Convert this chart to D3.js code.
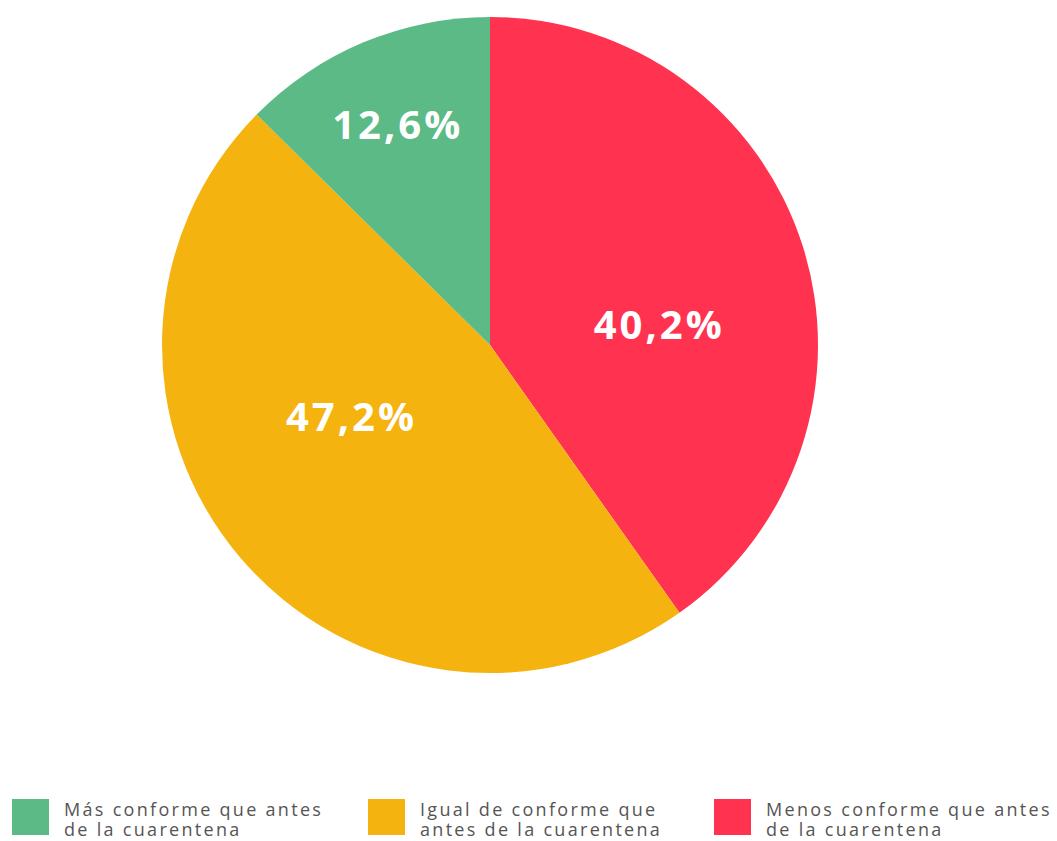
<!DOCTYPE html>
<html>
<head>
<meta charset="utf-8">
<script src="https://cdn.jsdelivr.net/npm/d3@7"></script>
<style>
  html, body { margin: 0; padding: 0; background: #ffffff; }
  svg { display: block; }
</style>
</head>
<body>
<svg id="chart" width="1057" height="841"></svg>
<script>
// ---- data ----
const categories = ["Menos conforme que antes de la cuarentena", "Igual de conforme que antes de la cuarentena", "Más conforme que antes de la cuarentena"];
const values = [40.2, 47.2, 12.6];
const valueLabels = ["40,2%", "47,2%", "12,6%"];
const legendOrder = [2, 1, 0];
const legendLines = [
  ["Menos conforme que antes", "de la cuarentena"],
  ["Igual de conforme que", "antes de la cuarentena"],
  ["Más conforme que antes", "de la cuarentena"]
];
const colors = ["#FF334F", "#F5B30F", "#5BBA86"];

// ---- layout ----
const W = 1057, H = 841;
const cx = 490, cy = 345, R = 328;
// label placement: polar (degrees clockwise from top, fraction of radius)
const labelPolar = [[83.2, 0.515], [242.8, 0.48], [336.9, 0.729]];
const legendXs = [12, 368, 714];

const svg = d3.select("#chart");
const g = svg.append("g").attr("transform", `translate(${cx},${cy})`);

const pie = d3.pie().sort(null).value(d => d)(values);
const arc = d3.arc().innerRadius(0).outerRadius(R);

g.selectAll("path.slice")
  .data(pie)
  .join("path")
  .attr("class", "slice")
  .attr("d", arc)
  .attr("fill", (d, i) => colors[i]);

g.selectAll("text.val")
  .data(pie)
  .join("text")
  .attr("class", "val")
  .attr("x", (d, i) => Math.sin(labelPolar[i][0] * Math.PI / 180) * labelPolar[i][1] * R + 1.5)
  .attr("y", (d, i) => -Math.cos(labelPolar[i][0] * Math.PI / 180) * labelPolar[i][1] * R)
  .attr("text-anchor", "middle")
  .attr("dy", "0.36em")
  .attr("fill", "#ffffff")
  .attr("font-family", "'Open Sans', sans-serif")
  .attr("font-weight", 700)
  .attr("font-size", 40)
  .attr("letter-spacing", 3)
  .text((d, i) => valueLabels[i]);

// ---- legend ----
const leg = svg.append("g");
const items = leg.selectAll("g.item")
  .data(legendOrder)
  .join("g")
  .attr("class", "item")
  .attr("transform", (d, i) => `translate(${legendXs[i]},799)`);

items.append("rect")
  .attr("width", 37).attr("height", 36)
  .attr("fill", d => colors[d]);

items.each(function(d) {
  d3.select(this).selectAll("text.lg")
    .data(legendLines[d])
    .join("text")
    .attr("class", "lg")
    .attr("x", 52)
    .attr("y", (t, i) => 17 + i * 20)
    .attr("font-family", "'Open Sans', sans-serif")
    .attr("font-size", 18)
    .attr("letter-spacing", 2.3)
    .attr("fill", "#555555")
    .text(t => t);
});
</script>
</body>
</html>
